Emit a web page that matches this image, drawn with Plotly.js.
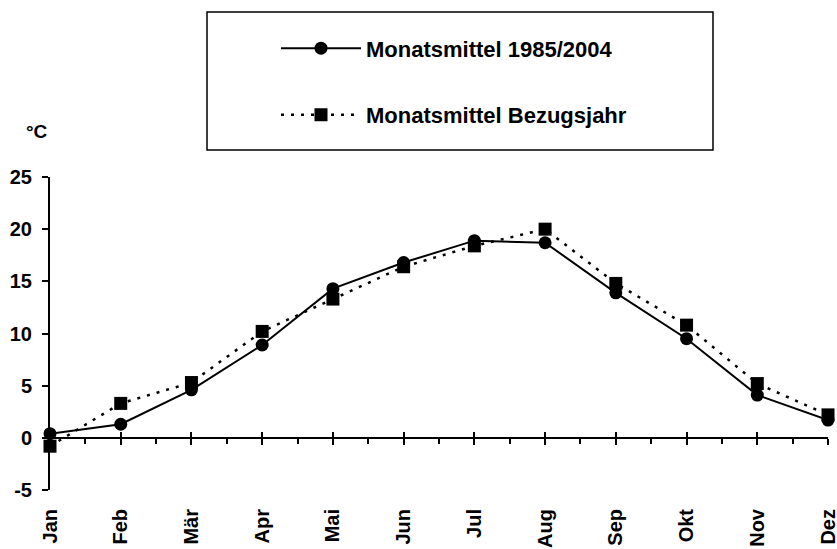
<!DOCTYPE html>
<html>
<head>
<meta charset="utf-8">
<script src="https://cdn.plot.ly/plotly-3.0.1.min.js"></script>
<style>html,body{margin:0;padding:0;background:#fff;}#chart{width:837px;height:549px;}</style>
</head>
<body>
<div id="chart"></div>
<script>
var months = ["Jan","Feb","Mär","Apr","Mai","Jun","Jul","Aug","Sep","Okt","Nov","Dez"];
var mittel19852004 = [0.4, 1.3, 4.6, 8.9, 14.3, 16.8, 18.9, 18.7, 13.9, 9.5, 4.1, 1.7];
var bezugsjahr = [-0.8, 3.3, 5.3, 10.2, 13.3, 16.4, 18.4, 20.0, 14.8, 10.8, 5.2, 2.2];
var seriesNames = ["Monatsmittel 1985/2004", "Monatsmittel Bezugsjahr"];
var yTickVals = [-5, 0, 5, 10, 15, 20, 25];
var yTickText = ["-5", "0", "5", "10", "15", "20", "25"];
var yUnit = "°C";

var idx = months.map(function(m, i){ return i; });
var FONT = "Liberation Sans, Arial, sans-serif";

var data = [
  {x: idx, y: mittel19852004, name: seriesNames[0], type: "scatter", mode: "lines+markers",
   line: {color: "#000", width: 2}, marker: {symbol: "circle", size: 13, color: "#000"},
   cliponaxis: false, legendgroup: "a"},
  {x: idx, y: bezugsjahr, name: seriesNames[1], type: "scatter", mode: "lines+markers",
   line: {color: "#000", width: 2.5, dash: "3px,7px"}, marker: {symbol: "square", size: 13, color: "#000"},
   cliponaxis: false, legendgroup: "b"},
  {x: [], y: [], xaxis: "x2", yaxis: "y", showlegend: false, hoverinfo: "skip", type: "scatter"},
  {x: [], y: [], xaxis: "x3", yaxis: "y", showlegend: false, hoverinfo: "skip", type: "scatter"}
];

var layout = {
  width: 837, height: 549,
  margin: {l: 50, r: 9, t: 177, b: 59},
  paper_bgcolor: "#fff", plot_bgcolor: "#fff",
  font: {family: FONT, size: 21, color: "#000", weight: "bold"},
  showlegend: true,
  legend: {x: (276-50)/778, y: 1.478, xanchor: "left", yanchor: "top",
           bgcolor: "rgba(0,0,0,0)", borderwidth: 0, itemwidth: 80,
           tracegroupgap: 35, font: {family: FONT, size: 22, weight: "bold", color: "#000"}},
  xaxis: {range: [0, 11], tickmode: "array", tickvals: idx, ticktext: months, tickangle: -90,
          ticks: "", showline: false, showgrid: false, zeroline: false, ticklabeloverflow: "allow",
          ticklabelstandoff: 14, tickfont: {family: FONT, size: 20, weight: "bold"}},
  xaxis2: {overlaying: "x", anchor: "free", position: 1/6, side: "bottom", range: [0, 11],
           showticklabels: false, showgrid: false, zeroline: false, showline: true,
           linecolor: "#000", linewidth: 2, ticks: "outside", tickmode: "linear", tick0: 0, dtick: 1,
           ticklen: 6, tickwidth: 2, tickcolor: "#000",
           minor: {ticks: "outside", tick0: 0.5, dtick: 1, ticklen: 5, tickwidth: 2, tickcolor: "#000"}},
  xaxis3: {overlaying: "x", anchor: "free", position: 1/6, side: "bottom", range: [0, 11],
           showticklabels: false, showgrid: false, zeroline: false, showline: false,
           ticks: "inside", tickmode: "linear", tick0: 0, dtick: 1,
           ticklen: 6, tickwidth: 2, tickcolor: "#000"},
  yaxis: {range: [-5, 25], tickmode: "array", tickvals: yTickVals, ticktext: yTickText,
          ticks: "outside", ticklen: 6, tickwidth: 2, tickcolor: "#000",
          showline: true, linecolor: "#000", linewidth: 2, showgrid: false, zeroline: false,
          tickfont: {family: FONT, size: 20, weight: "bold"}, ticklabelstandoff: 6},
  shapes: [
    {type: "rect", xref: "paper", yref: "paper", x0: (207-50)/778, x1: (713-50)/778,
     y0: (549-59-150)/313, y1: (549-59-12)/313, line: {color: "#000", width: 1.5}, fillcolor: "rgba(0,0,0,0)"}
  ],
  annotations: [
    {text: yUnit, xref: "paper", yref: "paper", x: (37-50)/778, y: (549-59-131)/313,
     xanchor: "center", yanchor: "middle", showarrow: false,
     font: {family: FONT, size: 19, weight: "bold", color: "#000"}}
  ]
};

Plotly.newPlot("chart", data, layout, {displayModeBar: false, staticPlot: true});
</script>
</body>
</html>
